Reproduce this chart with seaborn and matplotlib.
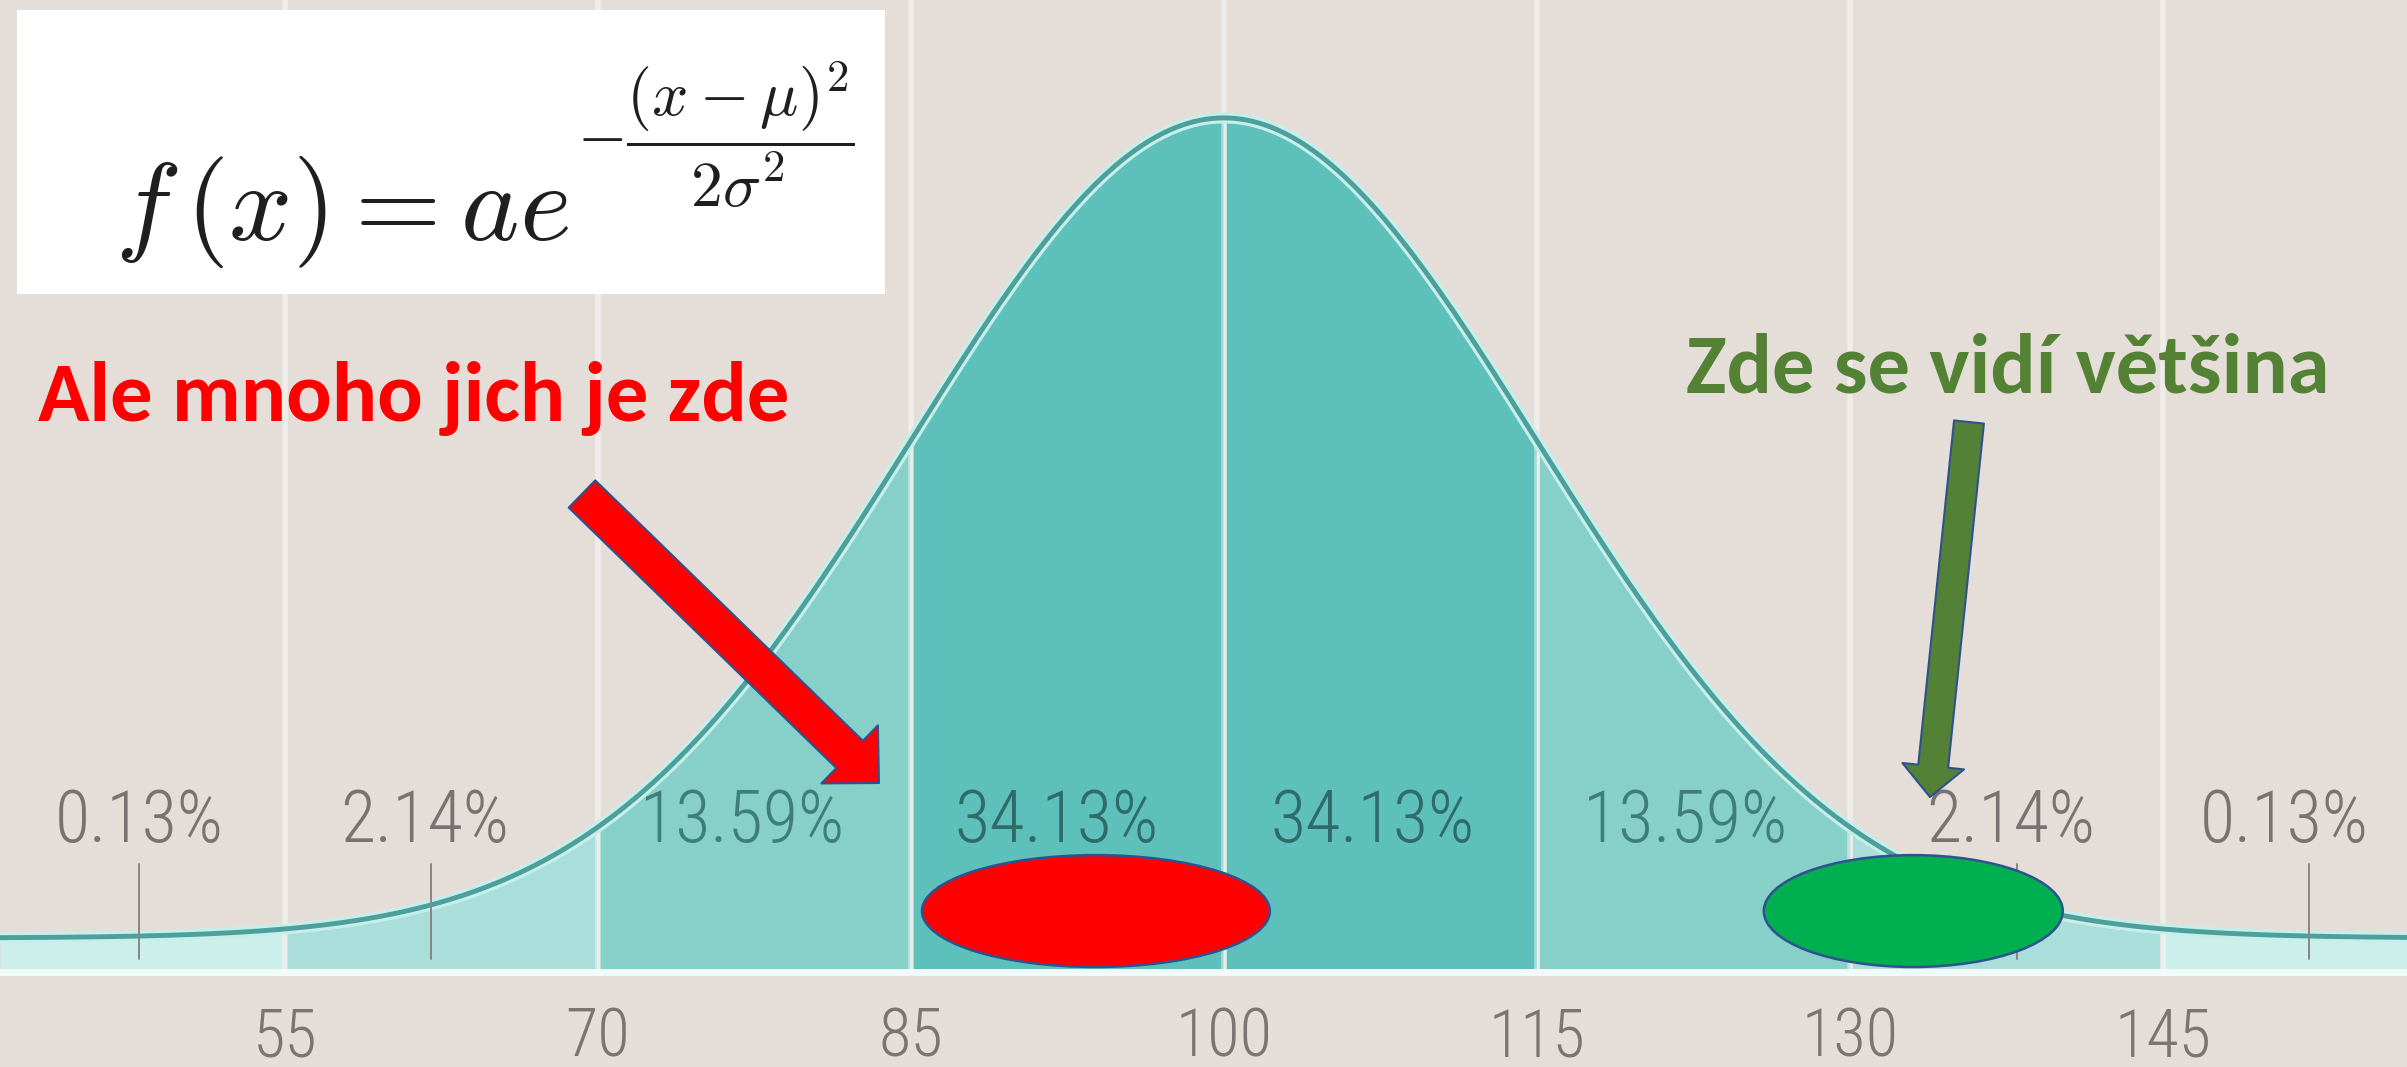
import numpy as np
import matplotlib.pyplot as plt
import seaborn as sns
from matplotlib.patches import Ellipse, FancyArrowPatch, Rectangle

# distribution drawn in the chart (IQ style scale)
mu = 100
sigma = 15
x_ticks = [55, 70, 85, 100, 115, 130, 145]
band_edges = [41.35, 55, 70, 85, 100, 115, 130, 145, 156.7]
band_colors = ['#cdefec', '#a9dedb', '#86d0c9', '#5ec0ba',
               '#5ec0ba', '#86d0c9', '#a9dedb', '#cdefec']
pct_labels = ['0.13%', '2.14%', '13.59%', '34.13%', '34.13%', '13.59%', '2.14%', '0.13%']
pct_pos = [48, 61.7, 76.9, 92, 107.1, 122.1, 137.7, 150.8]
pct_colors = ['#787372', '#787372', '#3f7d7a', '#2f6b69',
              '#2f6b69', '#3f7d7a', '#787372', '#787372']
marker_pos = [48, 62, 138, 152]

W, H = 2407, 1067
BG = '#e4ddd8'

sns.set_style('white', {'axes.facecolor': BG, 'figure.facecolor': BG})
plt.rcParams['mathtext.fontset'] = 'cm'
narrow = ['Roboto Condensed', 'DejaVu Sans']
calibri = ['Carlito', 'DejaVu Sans']


def px(x, y):
    # image pixel -> figure fraction
    return x / W, 1 - y / H


fig = plt.figure(figsize=(W / 100, H / 100), dpi=100)
ax = fig.add_axes([0, 95 / H, 1, 972 / H])

xs = np.linspace(band_edges[0], band_edges[-1], 800)
pdf = np.exp(-(xs - mu) ** 2 / (2 * sigma ** 2)) / (sigma * np.sqrt(2 * np.pi))
peak = pdf.max()
span = peak / (0.8787 - 0.0349)
ymin = -0.0349 * span
ax.set_xlim(band_edges[0], band_edges[-1])
ax.set_ylim(ymin, ymin + span)

for lo, hi, c in zip(band_edges[:-1], band_edges[1:], band_colors):
    m = (xs >= lo) & (xs <= hi)
    ax.fill_between(xs[m], ymin, pdf[m], color=c, lw=0, zorder=1)

for t in x_ticks:
    ax.axvline(t, color='white', alpha=0.45, lw=4, zorder=2)

sns.lineplot(x=xs, y=pdf, ax=ax, color='#c6efeb', lw=8, zorder=3)
sns.lineplot(x=xs, y=pdf, ax=ax, color='#4c9f9b', lw=3.5, zorder=4)
ax.axhline(ymin, color='#f1fbfa', lw=5, clip_on=False, zorder=5)

trans = ax.get_xaxis_transform()
for m in marker_pos:
    ax.plot([m, m], [0.013, 0.111], transform=trans, color='#8a8583', lw=1.4, zorder=4)

for lab, p, c in zip(pct_labels, pct_pos, pct_colors):
    ax.text(p, (973 - 843) / 973, lab, transform=trans, ha='center', va='baseline',
            fontsize=52, color=c, family=narrow, weight='light', zorder=6)

ax.set_xticks(x_ticks)
ax.set_xticklabels([str(t) for t in x_ticks], family=narrow, weight='light')
ax.tick_params(axis='x', length=0, pad=25, labelsize=48, labelcolor='#7a7573')
ax.set_yticks([])
sns.despine(ax=ax, left=True, bottom=True)

# ellipses
ax.add_patch(Ellipse((93.87, 0.0627), 16.67, 0.1151, transform=trans,
                     facecolor='#ff0000', edgecolor='#2f528f', lw=1.8, zorder=7))
ax.add_patch(Ellipse((133.04, 0.0627), 14.33, 0.1151, transform=trans,
                     facecolor='#00b050', edgecolor='#2f528f', lw=1.8, zorder=7))

# formula box
x0, y0 = px(17, 294)
fig.patches.append(Rectangle((x0, y0), 868 / W, 284 / H, transform=fig.transFigure,
                             facecolor='white', edgecolor='none', zorder=8))
fx, fy = px(115, 240)
fig.text(fx, fy, r'$f\,(x) = ae$', fontsize=80,
         ha='left', va='baseline', color='#1f1f1f', zorder=9)
ex, ey = px(577, 135)
fig.text(ex, ey, r'$-\dfrac{(x-\mu)^2}{2\sigma^2}$', fontsize=46,
         ha='left', va='center', color='#1f1f1f', zorder=9)

# annotations
tx, ty = px(38, 398)
fig.text(tx, ty, 'Ale mnoho jich je zde', fontsize=61, weight='bold', color='#ff0000',
         family=calibri, ha='left', va='center', zorder=9)
tx, ty = px(1686, 370)
fig.text(tx, ty, 'Zde se vidí většina', fontsize=61, weight='bold', color='#548235',
         family=calibri, ha='left', va='center', zorder=9)

fig.patches.append(FancyArrowPatch(px(582, 494), px(879, 783), transform=fig.transFigure,
                                   arrowstyle='simple,head_length=29.5,head_width=58.3,tail_width=27.4',
                                   shrinkA=0, shrinkB=0, facecolor='#ff0000',
                                   edgecolor='#2f528f', lw=1.5, zorder=9))
fig.patches.append(FancyArrowPatch(px(1969, 422), px(1930, 797), transform=fig.transFigure,
                                   arrowstyle='simple,head_length=22.3,head_width=44.6,tail_width=21.6',
                                   shrinkA=0, shrinkB=0, facecolor='#538135',
                                   edgecolor='#2f528f', lw=1.5, zorder=9))

fig.savefig('out.png', dpi=100, facecolor=BG)
